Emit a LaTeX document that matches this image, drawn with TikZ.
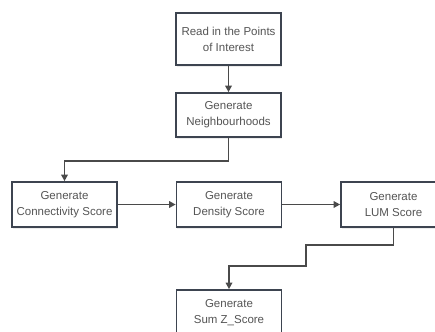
\documentclass[tikz,border=0pt]{standalone}
\usepackage{fontspec}
\setmainfont{Liberation Sans}
\usetikzlibrary{arrows.meta,shadows}
\definecolor{boxline}{HTML}{3D4450}
\definecolor{conn}{HTML}{4A4A4A}
\definecolor{txt}{HTML}{555555}
\tikzset{
  stepbox/.style={draw=boxline, line width=1.7pt, fill=white, minimum width=105pt,
    align=center, text=txt, inner sep=0pt,
    font=\fontsize{11.5}{16}\selectfont,
    drop shadow={opacity=0.15, shadow xshift=0.8pt, shadow yshift=-1.8pt}},
  conn/.style={draw=conn, line width=1.6pt, -{Triangle[width=6.5pt,length=6.5pt]}}
}
\begin{document}
\begin{tikzpicture}[x=1pt,y=-1pt]
\useasboundingbox (0,0) rectangle (435,331);
\clip (0,0) rectangle (435,331);
\fill[white] (0,0) rectangle (435,331);
\node[stepbox, minimum height=52pt] (b1) at (228.5,39) {Read in the Points\\of Interest};
\node[stepbox, minimum height=44pt] (b2) at (228.5,115) {Generate\\Neighbourhoods};
\node[stepbox, minimum height=45pt] (b3) at (64.5,204.5) {Generate\\Connectivity Score};
\node[stepbox, minimum height=45pt] (b4) at (229,204.5) {Generate\\Density Score};
\node[stepbox, minimum height=45pt] (b5) at (393.5,204.5) {Generate\\LUM Score};
\node[stepbox, minimum height=45pt] (b6) at (229,312.5) {Generate\\Sum Z\_Score};
\coordinate (k1) at (306,245);
\coordinate (k2) at (306,266);
\draw[conn] (b1) -- (b2);
\draw[conn] (b2.south) -- ++(0,23) -| (b3.north);
\draw[conn] (b3) -- (b4);
\draw[conn] (b4) -- (b5);
\draw[conn] (b5.south) |- (k1) -- (k2) -| (b6.north);
\end{tikzpicture}
\end{document}
